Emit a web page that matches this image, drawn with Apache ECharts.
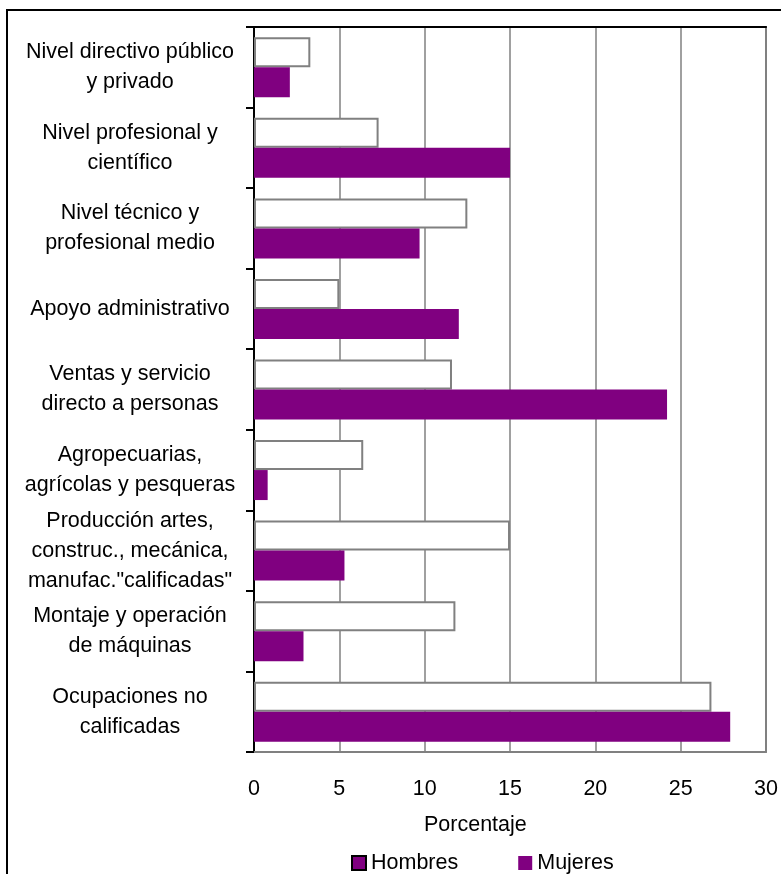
<!DOCTYPE html>
<html>
<head>
<meta charset="utf-8">
<script src="https://cdn.jsdelivr.net/npm/echarts@6/dist/echarts.min.js"></script>
<style>
  html, body { margin: 0; padding: 0; background: #fff; }
  #chart { width: 781px; height: 874px; }
</style>
</head>
<body>
<div id="chart"></div>
<script>
// Occupational groups, listed top to bottom
const categories = [
  'Nivel directivo público\ny privado',
  'Nivel profesional y\ncientífico',
  'Nivel técnico y\nprofesional medio',
  'Apoyo administrativo',
  'Ventas y servicio\ndirecto a personas',
  'Agropecuarias,\nagrícolas y pesqueras',
  'Producción artes,\nconstruc., mecánica,\nmanufac."calificadas"',
  'Montaje y operación\nde máquinas',
  'Ocupaciones no\ncalificadas'
];

// Share of employed persons (%) by sex
const hombres = [3.3, 7.3, 12.5, 5.0, 11.6, 6.4, 15.0, 11.8, 26.8];
const mujeres = [2.1, 15.0, 9.7, 12.0, 24.2, 0.8, 5.3, 2.9, 27.9];

const xTicks = { min: 0, max: 30, interval: 5 };

const FONT = 'Liberation Sans, Arial, sans-serif';
const FS = 21.5;
const GREY = '#808080';
const PURPLE = '#800080';

const chart = echarts.init(document.getElementById('chart'), null, { renderer: 'canvas' });

chart.setOption({
  animation: false,
  backgroundColor: '#fff',
  textStyle: { fontFamily: FONT, color: '#000' },
  grid: { left: 254, right: 12, top: 27, bottom: 122, containLabel: false },
  legend: {
    top: 852,
    left: 351,
    padding: 0,
    itemWidth: 14,
    itemHeight: 14,
    itemGap: 60,
    textStyle: { fontFamily: FONT, fontSize: FS, color: '#000' },
    data: [
      { name: 'Hombres', icon: 'rect', itemStyle: { color: PURPLE, borderColor: '#000', borderWidth: 2 } },
      { name: 'Mujeres', icon: 'rect', itemStyle: { color: PURPLE, borderWidth: 0 } }
    ]
  },
  xAxis: [
    {
      type: 'value',
      position: 'bottom',
      min: xTicks.min,
      max: xTicks.max,
      interval: xTicks.interval,
      axisLine: { show: true, lineStyle: { color: GREY, width: 2 } },
      axisTick: { show: false },
      axisLabel: { margin: 26, fontSize: FS, color: '#000', fontFamily: FONT },
      splitLine: { show: true, lineStyle: { color: GREY, width: 1.5 } }
    },
    {
      type: 'value',
      position: 'top',
      min: xTicks.min,
      max: xTicks.max,
      interval: xTicks.interval,
      axisLine: { show: true, onZero: false, lineStyle: { color: '#000', width: 2 } },
      axisTick: { show: false },
      axisLabel: { show: false },
      splitLine: { show: false }
    }
  ],
  yAxis: [
    {
      type: 'category',
      inverse: true,
      data: categories,
      position: 'left',
      axisLine: { show: true, onZero: false, lineStyle: { color: '#000', width: 2 } },
      axisTick: { show: true, length: 8, lineStyle: { color: '#000', width: 2 } },
      axisLabel: {
        margin: 124,
        align: 'center',
        fontSize: FS,
        lineHeight: 30,
        color: '#000',
        fontFamily: FONT
      }
    },
    {
      type: 'category',
      inverse: true,
      data: categories,
      position: 'right',
      axisLine: { show: true, onZero: false, lineStyle: { color: GREY, width: 2 } },
      axisTick: { show: false },
      axisLabel: { show: false }
    }
  ],
  graphic: [
    {
      type: 'text',
      left: 424,
      top: 814,
      style: { text: 'Porcentaje', font: FS + 'px ' + FONT, fill: '#000' }
    },
    {
      type: 'rect',
      shape: { x: 7, y: 10, width: 900, height: 900 },
      style: { fill: 'none', stroke: '#000', lineWidth: 2 },
      silent: true,
      z: 100
    }
  ],
  series: [
    {
      name: 'Hombres',
      type: 'bar',
      data: hombres,
      barWidth: 30,
      barGap: '0%',
      itemStyle: { color: '#fff', borderColor: GREY, borderWidth: 2 }
    },
    {
      name: 'Mujeres',
      type: 'bar',
      data: mujeres,
      barWidth: 30,
      barGap: '0%',
      itemStyle: { color: PURPLE }
    }
  ]
});
</script>
</body>
</html>
